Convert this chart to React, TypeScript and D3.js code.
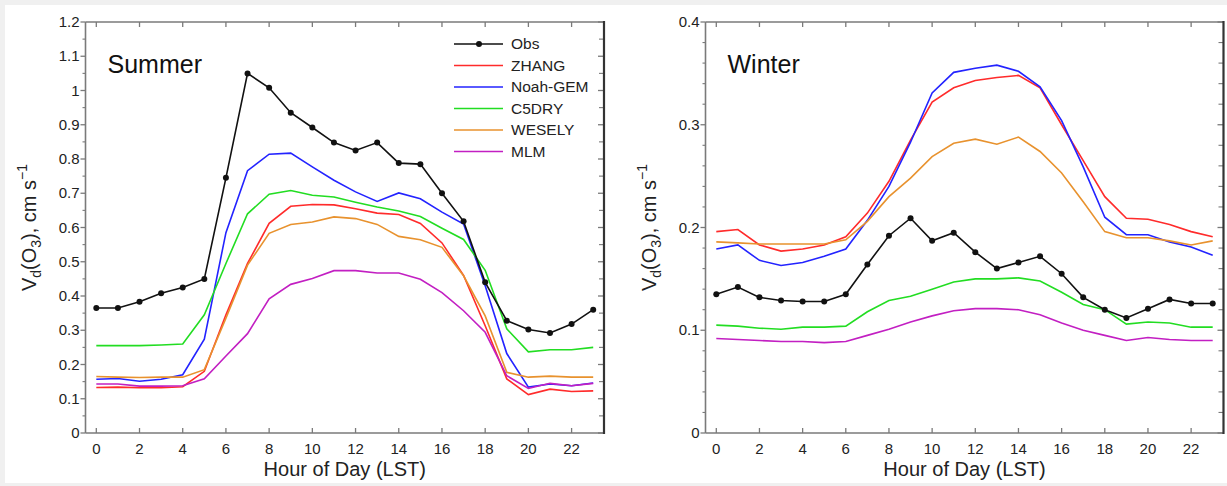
import React from "react";
import * as d3 from "d3";

const hours = [0,1,2,3,4,5,6,7,8,9,10,11,12,13,14,15,16,17,18,19,20,21,22,23];
const hourTicks = [0,2,4,6,8,10,12,14,16,18,20,22];

const seriesNames = ["Obs", "ZHANG", "Noah-GEM", "C5DRY", "WESELY", "MLM"];
const couleur = ["#111111", "#ff2b2b", "#2323ff", "#22dd22", "#e8922e", "#c21fc2"];

// summer
const obsS = [0.365,0.365,0.383,0.408,0.425,0.45,0.745,1.05,1.008,0.935,0.892,0.848,0.825,0.848,0.788,0.785,0.70,0.618,0.44,0.328,0.302,0.292,0.318,0.36];
const zhangS = [0.133,0.134,0.132,0.132,0.135,0.18,0.345,0.495,0.612,0.662,0.667,0.666,0.655,0.642,0.638,0.612,0.555,0.46,0.313,0.158,0.112,0.128,0.121,0.123];
const noahS = [0.157,0.159,0.151,0.157,0.17,0.274,0.585,0.766,0.814,0.817,0.777,0.738,0.704,0.676,0.701,0.684,0.645,0.61,0.43,0.232,0.134,0.143,0.138,0.146];
const c5S = [0.255,0.255,0.255,0.257,0.26,0.345,0.495,0.64,0.697,0.708,0.694,0.689,0.674,0.66,0.648,0.632,0.598,0.565,0.475,0.304,0.237,0.243,0.243,0.25];
const wesS = [0.165,0.163,0.162,0.163,0.163,0.185,0.335,0.49,0.583,0.609,0.616,0.631,0.626,0.609,0.574,0.564,0.542,0.459,0.342,0.177,0.163,0.166,0.163,0.163];
const mlmS = [0.143,0.143,0.137,0.137,0.138,0.158,0.225,0.29,0.392,0.434,0.451,0.474,0.474,0.467,0.467,0.449,0.41,0.357,0.294,0.167,0.13,0.145,0.138,0.145];

// winter
const obsW = [0.135,0.142,0.132,0.129,0.128,0.128,0.135,0.164,0.192,0.209,0.187,0.195,0.176,0.16,0.166,0.172,0.155,0.132,0.12,0.112,0.121,0.13,0.126,0.126];
const zhangW = [0.196,0.198,0.183,0.177,0.179,0.183,0.191,0.214,0.245,0.285,0.322,0.336,0.343,0.346,0.348,0.336,0.3,0.265,0.23,0.209,0.208,0.203,0.196,0.191];
const noahW = [0.179,0.183,0.168,0.163,0.166,0.172,0.179,0.207,0.24,0.283,0.331,0.351,0.355,0.358,0.352,0.337,0.304,0.259,0.21,0.193,0.193,0.186,0.181,0.173];
const c5W = [0.105,0.104,0.102,0.101,0.103,0.103,0.104,0.118,0.129,0.133,0.14,0.147,0.15,0.15,0.151,0.148,0.137,0.125,0.12,0.106,0.108,0.107,0.103,0.103];
const wesW = [0.186,0.185,0.184,0.184,0.184,0.184,0.188,0.206,0.23,0.248,0.269,0.282,0.286,0.281,0.288,0.274,0.253,0.225,0.196,0.19,0.19,0.187,0.183,0.187];
const mlmW = [0.092,0.091,0.09,0.089,0.089,0.088,0.089,0.095,0.101,0.108,0.114,0.119,0.121,0.121,0.12,0.115,0.107,0.1,0.095,0.09,0.093,0.091,0.09,0.09];

const yTicksS = [0,0.1,0.2,0.3,0.4,0.5,0.6,0.7,0.8,0.9,1,1.1,1.2];
const yTicksW = [0,0.1,0.2,0.3,0.4];

const font = "'Liberation Sans', Arial, Helvetica, sans-serif";
const axisGrey = "#7a7a7a";

const Panel = ({ x0, x1, yMax, yTicks, minorStep, title, series, legend }) => {
  const top = 22;
  const bottom = 433;
  const x = d3.scaleLinear().domain([-0.5, 23.5]).range([x0, x1]);
  const y = d3.scaleLinear().domain([0, yMax]).range([bottom, top]);
  const minor = d3.range(0, yMax + 1e-9, minorStep).filter(
    v => !yTicks.some(t => Math.abs(t - v) < 1e-6)
  );
  const line = d3
    .line()
    .x((d, i) => x(hours[i]))
    .y(d => y(d));
  const fmt = v => String(+v.toFixed(2));
  const midY = (top + bottom) / 2;
  const labX = x0 - 50;

  return (
    <g fontFamily={font}>
      {/* ticks */}
      {hourTicks.map(h => (
        <g key={"xt" + h}>
          <line x1={x(h)} x2={x(h)} y1={bottom} y2={bottom - 5} stroke={axisGrey} strokeWidth={1.3} />
          <line x1={x(h)} x2={x(h)} y1={top} y2={top + 5} stroke={axisGrey} strokeWidth={1.3} />
          <text x={x(h)} y={bottom + 21} textAnchor="middle" fontSize={15} fill="#222">{h}</text>
        </g>
      ))}
      {yTicks.map(t => (
        <g key={"yt" + t}>
          <line x1={x0} x2={x0 - 5} y1={y(t)} y2={y(t)} stroke={axisGrey} strokeWidth={1.3} />
          <line x1={x1} x2={x1 - 6} y1={y(t)} y2={y(t)} stroke={axisGrey} strokeWidth={1.3} />
          <text x={x0 - 6} y={y(t) + 5} textAnchor="end" fontSize={15} fill="#222">{fmt(t)}</text>
        </g>
      ))}
      {minor.map(t => (
        <g key={"ym" + t}>
          <line x1={x0} x2={x0 - 3} y1={y(t)} y2={y(t)} stroke={axisGrey} strokeWidth={1.1} />
          <line x1={x1} x2={x1 - 5} y1={y(t)} y2={y(t)} stroke={axisGrey} strokeWidth={1.1} />
        </g>
      ))}

      {/* frame */}
      <line x1={x0} x2={x0} y1={top} y2={bottom} stroke={axisGrey} strokeWidth={1.6} />
      <line x1={x0} x2={x1} y1={bottom} y2={bottom} stroke={axisGrey} strokeWidth={1.6} />
      <line x1={x0} x2={x1} y1={top} y2={top} stroke={axisGrey} strokeWidth={1.6} />
      <line x1={x1} x2={x1} y1={top - 1} y2={bottom + 1} stroke="#333" strokeWidth={2.2} />

      {/* model lines, obs last */}
      {series.slice(1).map((s, i) => (
        <path key={"s" + i} d={line(s)} fill="none" stroke={couleur[i + 1]} strokeWidth={1.6} />
      ))}
      <path d={line(series[0])} fill="none" stroke={couleur[0]} strokeWidth={1.6} />
      {series[0].map((v, i) => (
        <circle key={"o" + i} cx={x(hours[i])} cy={y(v)} r={3} fill={couleur[0]} />
      ))}

      <text x={x0 + 22} y={73} fontSize={25} fill="#111">{title}</text>

      {/* axis labels */}
      <text x={(x0 + x1) / 2} y={476} textAnchor="middle" fontSize={20} fill="#222">Hour of Day (LST)</text>
      <text transform={`translate(${labX},${midY}) rotate(-90)`} textAnchor="middle" fontSize={20} fill="#222">
        V<tspan fontSize={14} dy={5}>d</tspan>
        <tspan dy={-5}>(O</tspan>
        <tspan fontSize={14} dy={5}>3</tspan>
        <tspan dy={-5}>), cm s</tspan>
        <tspan fontSize={14} dy={-9}>−1</tspan>
      </text>

      {legend &&
        seriesNames.map((n, i) => {
          const ly = 44 + i * 21.5;
          return (
            <g key={"lg" + i}>
              <line x1={454} x2={503} y1={ly} y2={ly} stroke={couleur[i]} strokeWidth={1.6} />
              {i === 0 && <circle cx={479} cy={ly} r={3} fill={couleur[0]} />}
              <text x={511} y={ly + 5} fontSize={15.5} fill="#222">{n}</text>
            </g>
          );
        })}
    </g>
  );
};

const App = () => (
  <svg
    width={1227}
    height={486}
    style={{ position: "absolute", left: 0, top: 0, display: "block" }}
  >
    <rect x={0} y={0} width={1227} height={486} fill="#f0f0f0" />
    <rect x={5} y={5} width={1222} height={478} fill="#ffffff" />
    <Panel
      x0={85.5}
      x1={604}
      yMax={1.2}
      yTicks={yTicksS}
      minorStep={0.05}
      title="Summer"
      series={[obsS, zhangS, noahS, c5S, wesS, mlmS]}
      legend={true}
    />
    <Panel
      x0={705.5}
      x1={1223.5}
      yMax={0.4}
      yTicks={yTicksW}
      minorStep={0.02}
      title="Winter"
      series={[obsW, zhangW, noahW, c5W, wesW, mlmW]}
      legend={false}
    />
  </svg>
);

export default App;
